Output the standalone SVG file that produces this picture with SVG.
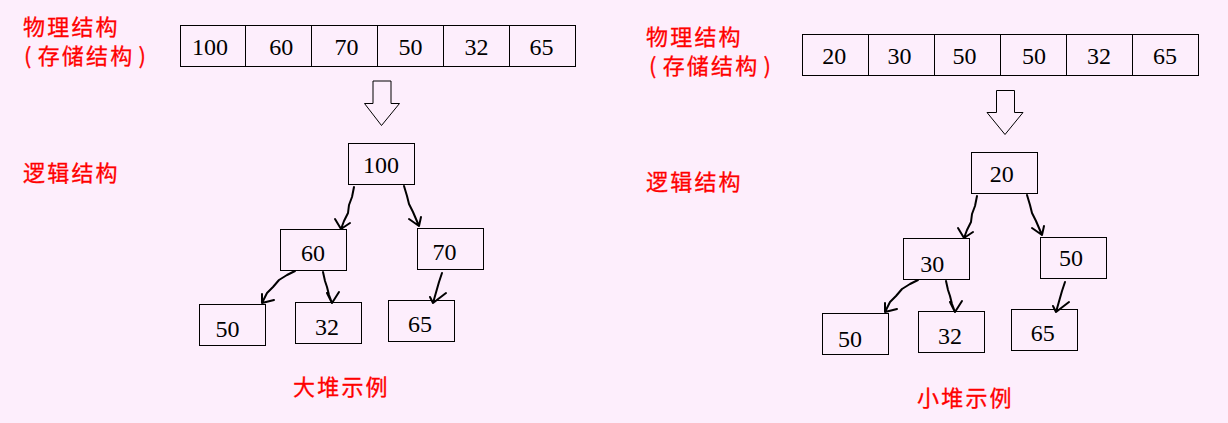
<svg xmlns="http://www.w3.org/2000/svg" width="1228" height="423" viewBox="0 0 1228 423">
<style>
.bg{fill:#fdeefc}
.box{fill:none;stroke:#000;stroke-width:1}
.num{font-family:"Liberation Serif",serif;font-size:24px;fill:#000;text-anchor:middle}
.lbl{font-family:"Noto Sans CJK SC",sans-serif;font-size:22px;fill:#f00;letter-spacing:2.2px;stroke:#f00;stroke-width:0.3px}
.con{fill:none;stroke:#000;stroke-width:2;stroke-linejoin:round;stroke-linecap:round}
.big{fill:none;stroke:#000;stroke-width:1}
</style>
<rect class="bg" x="0" y="0" width="1228" height="423"/>

<!-- Left labels -->
<g id="left-labels">
<text class="lbl" x="23" y="35">物理结构</text>
<text class="lbl" x="24" y="64">(<tspan dx="4">存储结构</tspan><tspan dx="4">)</tspan></text>
<text class="lbl" x="23" y="181">逻辑结构</text>
<text class="lbl" x="293" y="395">大堆示例</text>
</g>

<!-- Left array -->
<g id="L-arr-0"><rect class="box" x="180.5" y="25.5" width="65" height="41"/><text class="num" x="210" y="55">100</text></g>
<g id="L-arr-1"><rect class="box" x="245.5" y="25.5" width="66" height="41"/><text class="num" x="281.3" y="55">60</text></g>
<g id="L-arr-2"><rect class="box" x="311.5" y="25.5" width="66" height="41"/><text class="num" x="346.4" y="55">70</text></g>
<g id="L-arr-3"><rect class="box" x="377.5" y="25.5" width="66" height="41"/><text class="num" x="410.6" y="55">50</text></g>
<g id="L-arr-4"><rect class="box" x="443.5" y="25.5" width="66" height="41"/><text class="num" x="476.5" y="55">32</text></g>
<g id="L-arr-5"><rect class="box" x="509.5" y="25.5" width="66" height="41"/><text class="num" x="541.5" y="55">65</text></g>

<g id="L-bigarrow"><polygon class="big" points="373,81 391,81 391,103.5 399.5,103.5 381.5,125.5 364.5,103.5 373,103.5"/></g>

<!-- Left tree -->
<g id="L-n100"><rect class="box" x="348.5" y="143.5" width="66" height="41"/><text class="num" x="381" y="173.3">100</text></g>
<g id="L-n60"><rect class="box" x="280.5" y="229.5" width="66" height="41"/><text class="num" x="313" y="260.7">60</text></g>
<g id="L-n70"><rect class="box" x="417.5" y="228.5" width="66" height="41"/><text class="num" x="444.5" y="260">70</text></g>
<g id="L-n50"><rect class="box" x="199.5" y="304.5" width="66" height="41"/><text class="num" x="227.5" y="337.3">50</text></g>
<g id="L-n32"><rect class="box" x="295.5" y="302.5" width="66" height="41"/><text class="num" x="327" y="335.3">32</text></g>
<g id="L-n65"><rect class="box" x="388.5" y="300.5" width="66" height="41"/><text class="num" x="420" y="332">65</text></g>

<g id="L-connectors">
<path class="con" d="M354,187 L352,197 L349,205 L348,213 L344,221 L341,229 M335,219 L341,229 L350,223"/>
<path class="con" d="M404,186 L407,196 L409,204 L413,212 L416,219 L419,226 M409,219 L419,226 L421,217"/>
<path class="con" d="M295,271 L287,275 L279,280 L273,287 L267,293 L262,303 M262,294 L262,303 L274,300"/>
<path class="con" d="M323,272 L325,281 L327,287 L329,295 L332,303 M327,293 L332,303 L339,292"/>
<path class="con" d="M442,273 L439,282 L437,289 L435,296 L433,303 M430,297 L433,303 L446,293"/>
</g>

<!-- Right labels -->
<g id="right-labels">
<text class="lbl" x="646" y="45">物理结构</text>
<text class="lbl" x="649" y="74">(<tspan dx="4">存储结构</tspan><tspan dx="4">)</tspan></text>
<text class="lbl" x="646" y="190">逻辑结构</text>
<text class="lbl" x="917" y="406">小堆示例</text>
</g>

<!-- Right array -->
<g id="R-arr-0"><rect class="box" x="802.5" y="34.5" width="66" height="41"/><text class="num" x="834.3" y="64.3">20</text></g>
<g id="R-arr-1"><rect class="box" x="868.5" y="34.5" width="66" height="41"/><text class="num" x="899.4" y="64.3">30</text></g>
<g id="R-arr-2"><rect class="box" x="934.5" y="34.5" width="66" height="41"/><text class="num" x="964.4" y="64.3">50</text></g>
<g id="R-arr-3"><rect class="box" x="1000.5" y="34.5" width="66" height="41"/><text class="num" x="1034" y="64.3">50</text></g>
<g id="R-arr-4"><rect class="box" x="1066.5" y="34.5" width="66" height="41"/><text class="num" x="1099" y="64.3">32</text></g>
<g id="R-arr-5"><rect class="box" x="1132.5" y="34.5" width="66" height="41"/><text class="num" x="1165" y="64.3">65</text></g>

<g id="R-bigarrow"><polygon class="big" points="996.5,90.5 1014.5,90.5 1014.5,112.5 1023,112.5 1005,134.5 987,112.5 996.5,112.5"/></g>

<!-- Right tree -->
<g id="R-n20"><rect class="box" x="971.5" y="152.5" width="66" height="41"/><text class="num" x="1001.7" y="181.7">20</text></g>
<g id="R-n30"><rect class="box" x="903.5" y="238.5" width="66" height="41"/><text class="num" x="932.3" y="272.3">30</text></g>
<g id="R-n50a"><rect class="box" x="1040.5" y="237.5" width="66" height="41"/><text class="num" x="1071" y="266">50</text></g>
<g id="R-n50b"><rect class="box" x="822.5" y="313.5" width="66" height="41"/><text class="num" x="850" y="346.7">50</text></g>
<g id="R-n32"><rect class="box" x="918.5" y="311.5" width="66" height="41"/><text class="num" x="950" y="344.3">32</text></g>
<g id="R-n65"><rect class="box" x="1011.5" y="309.5" width="66" height="41"/><text class="num" x="1042.7" y="340.7">65</text></g>

<g id="R-connectors">
<path class="con" d="M977,196 L975,206 L972,214 L971,222 L967,230 L964,238 M958,228 L964,238 L973,232"/>
<path class="con" d="M1027,195 L1030,205 L1032,213 L1036,221 L1039,228 L1042,235 M1032,228 L1042,235 L1044,226"/>
<path class="con" d="M918,280 L910,284 L902,289 L896,296 L890,302 L885,312 M885,303 L885,312 L897,309"/>
<path class="con" d="M946,281 L948,290 L950,296 L952,304 L955,312 M950,302 L955,312 L962,301"/>
<path class="con" d="M1065,282 L1062,291 L1060,298 L1058,305 L1056,312 M1053,306 L1056,312 L1069,302"/>
</g>
</svg>
